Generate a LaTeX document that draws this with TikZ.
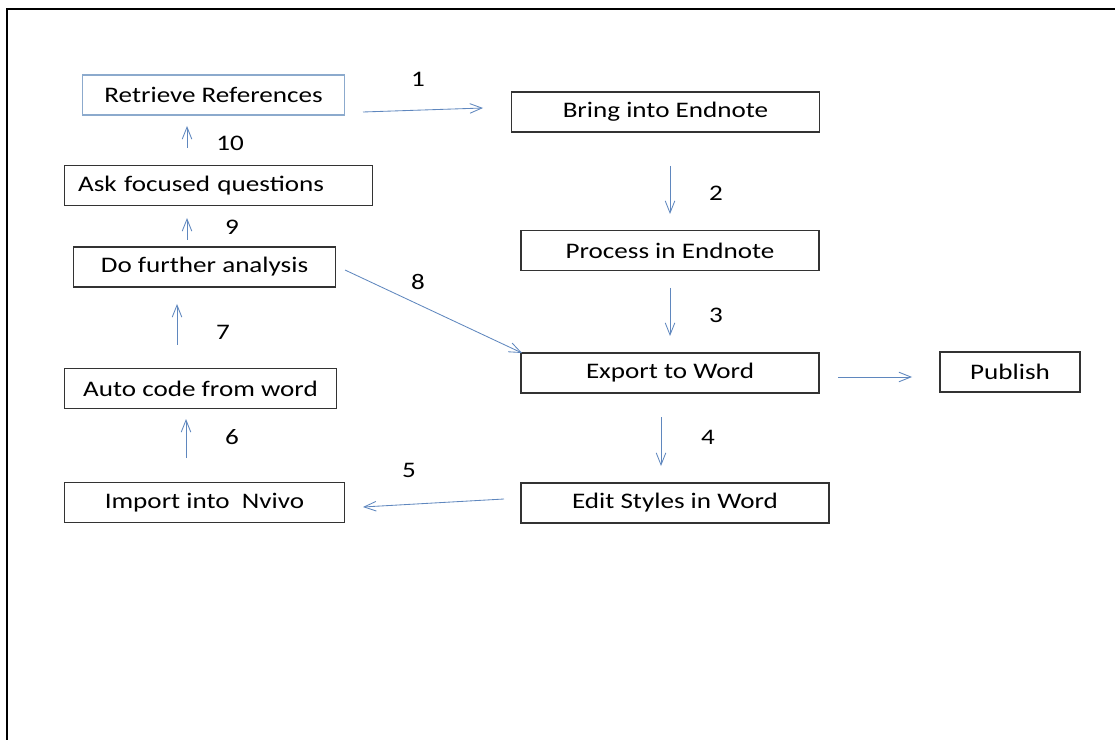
\documentclass[tikz,border=0pt]{standalone}
\usepackage{fontspec}
\setmainfont{Carlito}[FakeStretch=1.22]
\usetikzlibrary{arrows.meta}
\definecolor{flowblue}{RGB}{95,135,190}
\definecolor{paleblue}{RGB}{140,170,205}

\begin{document}
\begin{tikzpicture}[x=0.025cm,y=-0.025cm,->,>={Straight Barb[length=3mm,width=2.4mm]}]
   \useasboundingbox (0,0) rectangle (1115,740);
   \draw[-,line width=1.8pt] (7,740) -- (7,9) -- (1115,9);
   \fontsize{15.8}{19}\selectfont
   \tikzstyle{box}=[draw=black!80, line width=0.8pt, minimum height=1cm, inner sep=0pt]
   \tikzstyle{flow}=[draw=flowblue, line width=0.6pt]
   % left column
   \node[box, draw=paleblue, minimum width=6.53cm] (retrieve) at (213.5,95) {Retrieve References};
   \node[box, minimum width=7.68cm, text width=7.02cm, align=left] (ask) at (218.5,185.5) {Ask focused questions};
   \node[box, minimum width=6.53cm] (further) at (204.5,267) {Do further analysis};
   \node[box, minimum width=6.78cm] (autocode) at (200.5,388.5) {Auto code from word};
   \node[box, minimum width=6.98cm] (import) at (204.5,502.5) {Import into\ \ Nvivo};
   % right column
   \node[box, minimum width=7.68cm] (bring) at (665.5,112) {Bring into Endnote};
   \node[box, minimum width=7.45cm] (process) at (670,250.5) {Process in Endnote};
   \node[box, minimum width=7.45cm] (export) at (670,373) {Export to Word};
   \node[box, minimum width=7.7cm] (edit) at (675,503) {Edit Styles in Word};
   \node[box, minimum width=3.5cm] (publish) at (1010,372) {Publish};
   \foreach \i/\s/\e in {1/{363,112}/{483,108}, 2/{670,166}/{670,214}, 3/{670,288}/{670,336},
                         4/{661,417}/{661,466}, 5/{504,499}/{363,507}, 6/{186,458}/{186,419},
                         7/{177,345}/{177,304}, 8/{345,270}/{522,353}, 9/{187,240}/{187,218},
                         10/{187,148}/{187,126}, p/{838,377}/{912,377}} {
       \coordinate (s\i) at (\s);
       \coordinate (e\i) at (\e);
       \path (s\i) edge[flow] (e\i);
   }
   \foreach \i/\pos in {1/{418,79}, 2/{716,193}, 3/{716,315}, 4/{708,437}, 5/{409,470},
                        6/{232,437}, 7/{223,332}, 8/{418,282}, 9/{232,227}, 10/{230,143}} {
       \node (n\i) at (\pos) {\i};
   }
\end{tikzpicture}
\end{document}
